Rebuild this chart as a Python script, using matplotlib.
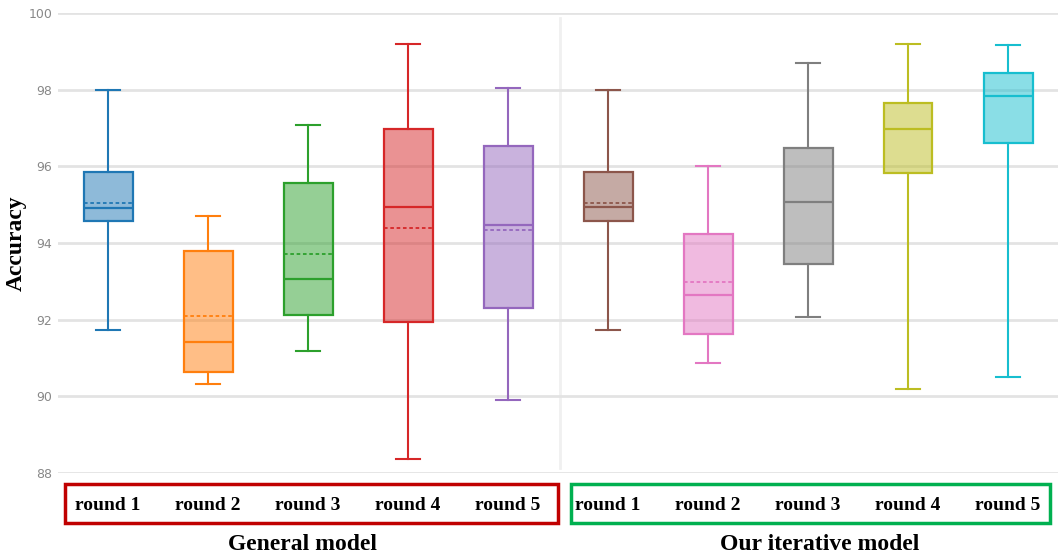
import matplotlib
matplotlib.use("Agg")
import matplotlib.pyplot as plt
from matplotlib.colors import to_rgba
from matplotlib.patches import Rectangle

# box statistics (accuracy, %)
groups = ["round 1", "round 2", "round 3", "round 4", "round 5",
          "round 1", "round 2", "round 3", "round 4", "round 5"]
whislo = [91.73, 90.32, 91.17, 88.36, 89.90, 91.72, 90.87, 92.07, 90.20, 90.50]
q1     = [94.57, 90.63, 92.12, 91.94, 92.31, 94.57, 91.62, 93.46, 95.83, 96.62]
med    = [94.91, 91.43, 93.06, 94.94, 94.47, 94.93, 92.64, 95.08, 96.98, 97.83]
q3     = [95.85, 93.78, 95.56, 96.97, 96.54, 95.85, 94.24, 96.48, 97.64, 98.43]
whishi = [98.00, 94.71, 97.08, 99.18, 98.04, 98.00, 96.02, 98.69, 99.20, 99.17]
mean   = [95.04, 92.09, 93.72, 94.40, 94.33, 95.05, 92.98, 95.08, 96.98, 97.83]
colors = ["#1f77b4", "#ff7f0e", "#2ca02c", "#d62728", "#9467bd",
          "#8c564b", "#e377c2", "#7f7f7f", "#bcbd22", "#17becf"]
group_titles = ["General model", "Our iterative model"]

serif = ["Liberation Serif", "DejaVu Serif"]

fig = plt.figure(figsize=(10.58, 5.55), dpi=100)
ax = fig.add_axes([58 / 1058, 82 / 555, 1000 / 1058, 460 / 555])

stats = []
for i in range(len(groups)):
    stats.append(dict(whislo=whislo[i], q1=q1[i], med=med[i], q3=q3[i],
                      whishi=whishi[i], mean=mean[i], fliers=[], label=groups[i]))

pos = list(range(len(groups)))
bp = ax.bxp(stats, positions=pos, widths=0.49, patch_artist=True,
            showmeans=True, meanline=True, showfliers=False)

for i, c in enumerate(colors):
    bp["boxes"][i].set_facecolor(to_rgba(c, 0.5))
    bp["boxes"][i].set_edgecolor(c)
    bp["boxes"][i].set_linewidth(1.6)
    bp["medians"][i].set_color(c)
    bp["medians"][i].set_linewidth(1.6)
    bp["means"][i].set_color(c)
    bp["means"][i].set_linestyle((0, (2, 1.5)))
    bp["means"][i].set_linewidth(1.3)
    for ln in bp["whiskers"][2 * i:2 * i + 2] + bp["caps"][2 * i:2 * i + 2]:
        ln.set_color(c)
        ln.set_linewidth(1.5)

ax.set_xlim(-0.5, 9.5)
ax.set_ylim(88, 100)
ax.set_yticks([88, 90, 92, 94, 96, 98, 100])
ax.yaxis.grid(True, color="#e3e3e3", linewidth=2)
ax.set_axisbelow(True)
ax.axvline(4.52, ymin=0.01, ymax=0.99, color="#f0f0f0", linewidth=2, zorder=0)
for s in ax.spines.values():
    s.set_visible(False)
ax.tick_params(axis="y", length=0, labelsize=9, labelcolor="#888888", pad=4)
ax.tick_params(axis="x", length=0, pad=17)
ax.set_xticks(pos)
ax.set_xticklabels(groups, fontfamily=serif, fontweight="bold", fontsize=14)
ax.set_ylabel("Accuracy", fontfamily=serif, fontweight="bold", fontsize=17)
ax.yaxis.set_label_coords(-0.031, 0.5)

# framed group labels below the axis
fig.patches.append(Rectangle((65 / 1058, 32 / 555), 493 / 1058, 39 / 555,
                             transform=fig.transFigure, fill=False,
                             edgecolor="#c00000", linewidth=2.5))
fig.patches.append(Rectangle((571 / 1058, 32 / 555), 479 / 1058, 39 / 555,
                             transform=fig.transFigure, fill=False,
                             edgecolor="#00b050", linewidth=2.5))
fig.text(302 / 1058, 11 / 555, group_titles[0], ha="center", va="center",
         fontfamily=serif, fontweight="bold", fontsize=17)
fig.text(820 / 1058, 11 / 555, group_titles[1], ha="center", va="center",
         fontfamily=serif, fontweight="bold", fontsize=17)

fig.savefig("out.png", dpi=100)
